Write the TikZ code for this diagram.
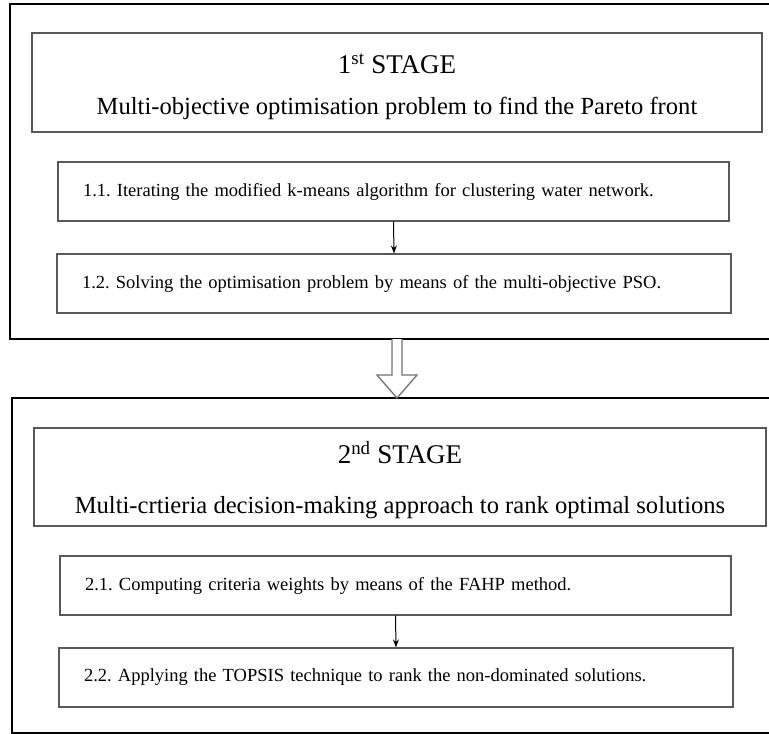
\documentclass[tikz,border=0pt]{standalone}
\usepackage{fontspec}
\setmainfont{Liberation Serif}
\usetikzlibrary{arrows.meta,calc}
\frenchspacing
\begin{document}
\begin{tikzpicture}[x=1pt,y=-1pt,
  outerbox/.style={draw=black,line width=1.3pt,minimum width=#1,minimum height=335pt,inner sep=0pt},
  titlebox/.style={draw=black!65,line width=1.4pt,minimum width=#1,inner sep=0pt,align=center,
    font=\fontsize{24.6}{30}\selectfont},
  stepbox/.style={draw=black!65,line width=1.2pt,minimum width=#1,text width=#1-50pt,minimum height=59pt,
    inner xsep=25pt,inner ysep=0pt,align=left,font=\fontsize{18.5}{20}\selectfont},
  thinarrow/.style={draw=black,line width=1pt,-{Stealth[length=8pt,width=6pt]}},
  hollow/.style={draw=black!55,line width=1.3pt,fill=white}
]
\useasboundingbox (0,0) rectangle (769,734);
% stage 1
\node[outerbox=765pt] (outer1) at (392.5,171.5) {};
\node[titlebox=730pt,minimum height=99pt] (title1) at (397,82.5)
  {{\fontsize{27}{30}\selectfont\rule{0pt}{28pt}1\textsuperscript{st} STAGE}\\[11pt]Multi-objective optimisation problem to find the Pareto front};
\node[stepbox=671pt] (s11) at (393.5,191.5)
  {1.1. Iterating the modified k-means algorithm for clustering water network.};
\node[stepbox=674pt] (s12) at (394,283.5)
  {1.2. Solving the optimisation problem by means of the multi-objective PSO.};
\draw[thinarrow] (s11.south) -- (s12.north);
% stage 2
\node[outerbox=763pt] (outer2) at (393.5,565.5) {};
\node[titlebox=732pt,minimum height=98pt] (title2) at (400,477)
  {{\fontsize{27}{30}\selectfont\rule{0pt}{28pt}2\textsuperscript{nd} STAGE}\\[20pt]Multi-crtieria decision-making approach to rank optimal solutions};
\node[stepbox=671pt] (s21) at (395.5,585.5)
  {2.1. Computing criteria weights by means of the FAHP method.};
\node[stepbox=674pt] (s22) at (396,677.5)
  {2.2. Applying the TOPSIS technique to rank the non-dominated solutions.};
\draw[thinarrow] (s21.south) -- (s22.north);
% hollow block arrow between stages
\coordinate (tip) at (397,398);
\draw[hollow] (392,339) -- (392,375) -- (377,375) -- (tip) -- (417,375) -- (402,375) -- (402,339);
\end{tikzpicture}
\end{document}
